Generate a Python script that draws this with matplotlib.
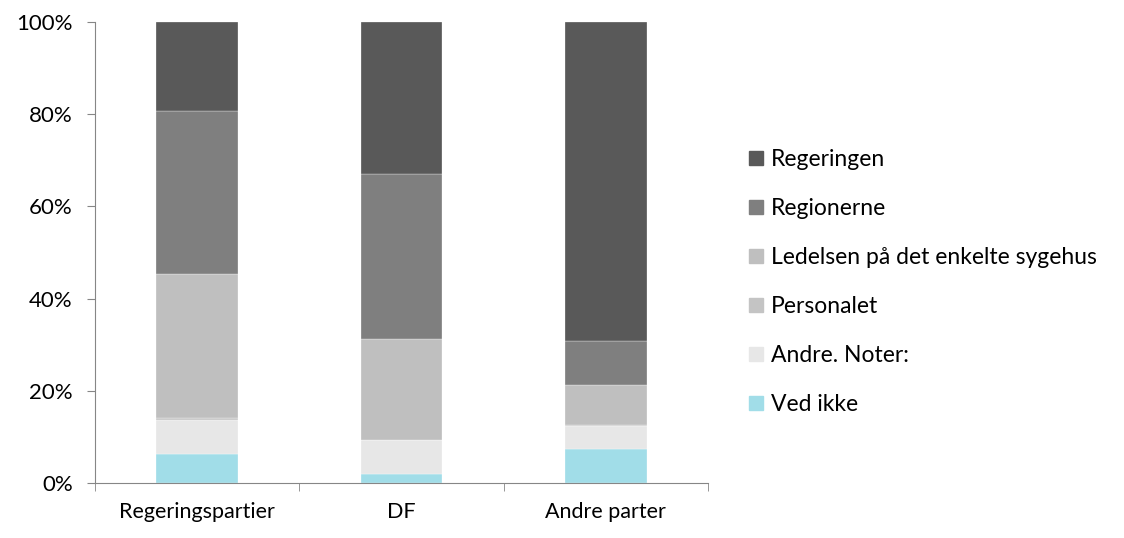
import matplotlib.pyplot as plt
import numpy as np
from matplotlib.patches import Patch
from matplotlib.ticker import PercentFormatter

plt.rcParams['font.family'] = ['Lato', 'DejaVu Sans']

categories = ['Regeringspartier', 'DF', 'Andre parter']
series = ['Ved ikke', 'Andre. Noter:', 'Personalet',
          'Ledelsen på det enkelte sygehus', 'Regionerne', 'Regeringen']
ved_ikke = [6.2, 1.9, 7.3]
andre = [7.5, 7.4, 5.0]
personalet = [0.5, 0.0, 0.3]
ledelsen = [31.1, 21.9, 8.6]
regionerne = [35.4, 35.8, 9.6]
regeringen = [19.3, 33.0, 69.2]
colors = ['#a1dde8', '#e7e7e7', '#c4c4c4', '#bfbfbf', '#7f7f7f', '#595959']

values = [ved_ikke, andre, personalet, ledelsen, regionerne, regeringen]

fig = plt.figure(figsize=(11.24, 5.38), dpi=100)
ax = fig.add_axes([95 / 1124, 1 - 483 / 538, 613 / 1124, 461 / 538])

x = np.arange(len(categories))
bottom = np.zeros(len(categories))
for name, vals, c in zip(series, values, colors):
    ax.bar(x, vals, width=0.4, bottom=bottom, color=c, label=name,
           edgecolor='white', linewidth=0.2)
    bottom += np.array(vals)

ax.set_xlim(-0.5, 2.5)
ax.set_ylim(0, 100)
ax.set_yticks([0, 20, 40, 60, 80, 100])
ax.yaxis.set_major_formatter(PercentFormatter(decimals=0))
ax.set_xticks(x)
ax.set_xticklabels(categories)
ax.set_xticks([-0.5, 0.5, 1.5, 2.5], minor=True)
ax.tick_params(axis='x', which='major', length=0, pad=14, labelsize=15.5)
ax.tick_params(axis='x', which='minor', length=6, color='#868686', direction='out')
ax.tick_params(axis='y', length=6, color='#868686', labelsize=16, pad=10)

for s in ['top', 'right']:
    ax.spines[s].set_visible(False)
for s in ['left', 'bottom']:
    ax.spines[s].set_color('#868686')

handles = [Patch(color=c, label=n) for n, c in zip(series, colors)][::-1]
fig.legend(handles=handles, loc='upper left', bbox_to_anchor=(740 / 1124, 1 - 140 / 538),
           frameon=False, fontsize=16.5, handlelength=0.6, handleheight=0.6,
           handletextpad=0.35, labelspacing=1.22, borderaxespad=0)

fig.savefig('out.png', dpi=100)
